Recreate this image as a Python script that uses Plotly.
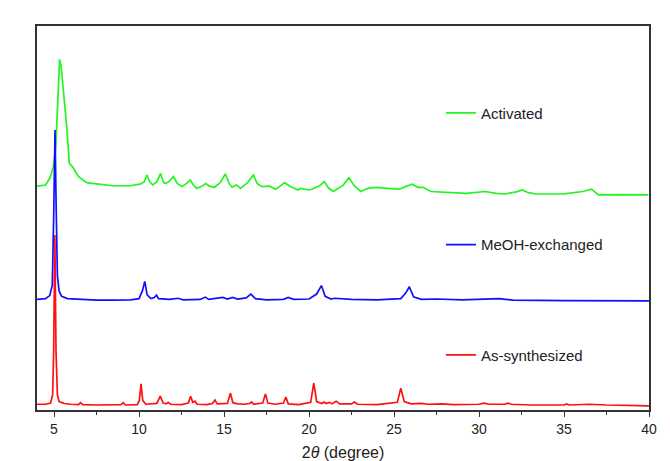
import plotly.graph_objects as go

# ---------------- data ----------------
two_theta_as = [4.0, 4.5, 4.8, 4.92, 4.98, 5.05, 5.12, 5.2, 5.3, 5.6, 6.0, 6.45, 6.56, 6.7, 7.5, 8.5,
                8.95, 9.07, 9.2, 9.9, 10.02, 10.12, 10.22, 10.4, 11.05, 11.25, 11.42, 11.6, 11.72, 11.85,
                12.5, 12.9, 13.04, 13.16, 13.29, 13.42, 14.0, 14.32, 14.47, 14.6, 15.2, 15.38, 15.52,
                15.8, 16.2, 16.5, 16.63, 16.75, 17.28, 17.44, 17.58, 18.0, 18.5, 18.64, 18.78, 19.4,
                20.1, 20.28, 20.45, 20.75, 20.88, 21.0, 21.2, 21.35, 21.6, 21.8, 22.5, 22.66, 22.85,
                24.0, 25.2, 25.4, 25.6, 26.0, 26.6, 27.0, 27.8, 28.5, 30.0, 30.3, 30.6, 31.5, 31.7,
                31.9, 33.0, 35.0, 35.15, 35.3, 36.5, 37.5, 39.0, 40.0]
int_as = [1.5, 1.5, 1.8, 4.0, 15.0, 45.6, 15.0, 4.0, 2.2, 1.7, 1.5, 1.4, 1.9, 1.4, 1.3, 1.3,
          1.4, 1.9, 1.3, 1.4, 2.5, 6.8, 2.5, 1.5, 1.7, 3.6, 1.8, 1.6, 2.0, 1.5,
          1.4, 1.8, 3.6, 2.0, 2.3, 1.5, 1.4, 1.7, 2.6, 1.6, 1.7, 4.4, 1.9,
          1.6, 1.5, 1.7, 2.1, 1.5, 1.8, 4.2, 1.8, 1.5, 1.8, 3.4, 1.6, 1.4,
          2.0, 7.0, 2.2, 1.7, 2.1, 1.7, 2.0, 1.6, 2.3, 1.6, 1.6, 2.1, 1.5,
          1.4, 2.0, 5.7, 2.2, 1.6, 1.7, 1.5, 1.6, 1.4, 1.5, 1.8, 1.5, 1.5, 1.8,
          1.5, 1.3, 1.3, 1.6, 1.3, 1.5, 1.3, 1.2, 1.1]

two_theta_meoh = [4.0, 4.5, 4.75, 4.9, 4.98, 5.06, 5.13, 5.2, 5.3, 5.45, 5.8, 6.5, 7.5, 8.5, 9.5,
                  10.0, 10.2, 10.34, 10.48, 10.7, 10.9, 11.03, 11.15, 11.8, 12.3, 12.6, 13.6, 13.9,
                  14.1, 14.93, 15.2, 15.5, 15.8, 16.3, 16.58, 16.85, 17.5, 18.5, 18.78, 19.1, 20.0,
                  20.45, 20.73, 20.95, 21.3, 21.5, 22.5, 24.0, 25.4, 25.7, 25.9, 26.15, 26.6, 27.5,
                  29.0, 31.2, 32.0, 35.0, 37.5, 40.0]
int_meoh = [28.8, 29.0, 29.8, 32.5, 50.0, 72.9, 52.0, 35.0, 31.0, 29.6, 29.0, 28.8, 28.6, 28.6, 28.7,
            29.0, 31.0, 33.5, 30.0, 29.0, 29.3, 29.9, 29.0, 28.8, 29.1, 28.7, 28.8, 29.4,
            28.8, 29.3, 28.9, 29.3, 28.9, 29.2, 30.2, 29.0, 28.7, 28.8, 29.3, 28.8, 28.9,
            30.2, 32.4, 29.6, 28.9, 29.1, 28.8, 28.7, 29.0, 30.5, 32.1, 29.5, 28.8, 28.9,
            28.7, 29.0, 28.6, 28.5, 28.5, 28.4]

two_theta_act = [4.00, 4.50, 4.76, 4.96, 5.10, 5.33, 5.42, 5.55, 5.75, 5.90, 6.14, 6.43, 6.92, 7.50,
                 8.47, 9.47, 10.06, 10.30, 10.47, 10.62, 10.81, 11.05, 11.27, 11.45, 11.57, 11.80,
                 12.03, 12.25, 12.53, 12.80, 13.01, 13.20, 13.40, 13.70, 13.93, 14.15, 14.44, 14.80,
                 15.08, 15.30, 15.47, 15.74, 15.97, 16.40, 16.73, 16.95, 17.19, 17.69, 18.04, 18.30,
                 18.56, 18.90, 19.37, 19.48, 20.06, 20.60, 20.90, 21.15, 21.43, 22.00, 22.35, 22.65,
                 23.04, 23.50, 23.95, 24.64, 25.33, 25.75, 26.06, 26.40, 26.71, 27.17, 28.20, 29.23,
                 30.38, 31.00, 31.52, 32.20, 32.55, 32.90, 33.36, 35.00, 36.11, 36.61, 37.03, 38.50,
                 39.96]
int_act = [58.3, 58.6, 60.4, 63.3, 68.0, 91.3, 89.5, 83.3, 73.7, 64.3, 63.0, 60.8, 59.2, 58.9,
           58.4, 58.4, 58.8, 59.4, 61.2, 59.5, 58.6, 59.4, 61.6, 59.2, 59.0, 59.6,
           60.8, 59.0, 58.2, 59.0, 59.9, 58.6, 57.7, 58.3, 59.0, 58.3, 58.0, 59.3,
           61.5, 59.0, 58.0, 58.6, 57.7, 59.3, 61.2, 59.0, 58.2, 58.3, 57.5, 58.3,
           59.2, 58.2, 57.3, 57.7, 57.3, 58.3, 59.5, 57.8, 56.9, 58.5, 60.5, 58.5,
           56.9, 57.8, 58.0, 57.7, 57.5, 58.3, 58.8, 58.0, 58.0, 56.9, 56.7, 56.4,
           56.9, 56.4, 56.25, 56.8, 57.3, 56.6, 56.25, 56.3, 56.9, 57.5, 56.0, 56.1,
           56.0]

x_ticks = [5, 10, 15, 20, 25, 30, 35, 40]
x_tick_labels = ["5", "10", "15", "20", "25", "30", "35", "40"]

FONT = "Liberation Sans, Arial, sans-serif"

fig = go.Figure()
fig.add_trace(go.Scatter(x=two_theta_act, y=int_act, mode="lines", name="Activated",
                         line=dict(color="#22f522", width=1.7), legend="legend", showlegend=True))
fig.add_trace(go.Scatter(x=two_theta_meoh, y=int_meoh, mode="lines", name="MeOH-exchanged",
                         line=dict(color="#1010ff", width=1.7), legend="legend2", showlegend=True))
fig.add_trace(go.Scatter(x=two_theta_as, y=int_as, mode="lines", name="As-synthesized",
                         line=dict(color="#ff1010", width=1.7), legend="legend3", showlegend=True))

leg_common = dict(x=0.660, xanchor="left", yanchor="middle", bgcolor="rgba(0,0,0,0)",
                  borderwidth=0, font=dict(family=FONT, size=15, color="#222"))

fig.update_layout(
    width=670, height=461,
    margin=dict(l=37, r=21, t=26, b=51),
    paper_bgcolor="white", plot_bgcolor="white",
    font=dict(family=FONT, color="#222"),
    showlegend=True,
    legend=dict(y=0.773, visible=True, **leg_common),
    legend2=dict(y=0.43, **leg_common),
    legend3=dict(y=0.143, **leg_common),
    xaxis=dict(range=[4, 40], tickvals=x_ticks, ticktext=x_tick_labels, automargin=False,
               ticks="outside", ticklen=5, tickwidth=1.2, tickcolor="#333",
               minor=dict(dtick=2.5, tick0=2.5, ticks="outside", ticklen=3, tickwidth=1.2, tickcolor="#333"),
               showline=True, linecolor="#333", linewidth=1.6, mirror=True,
               showgrid=False, zeroline=False,
               tickfont=dict(family=FONT, size=14, color="#222"),
               title=dict(text="2<i>θ</i> (degree)", font=dict(family=FONT, size=16, color="#222"))),
    yaxis=dict(range=[0, 100], showticklabels=False, ticks="", automargin=False,
               showline=True, linecolor="#333", linewidth=1.6, mirror=True,
               showgrid=False, zeroline=False),
)

fig.write_html("out.html", post_script="document.body.style.margin='0';",
               config={"displayModeBar": False})
